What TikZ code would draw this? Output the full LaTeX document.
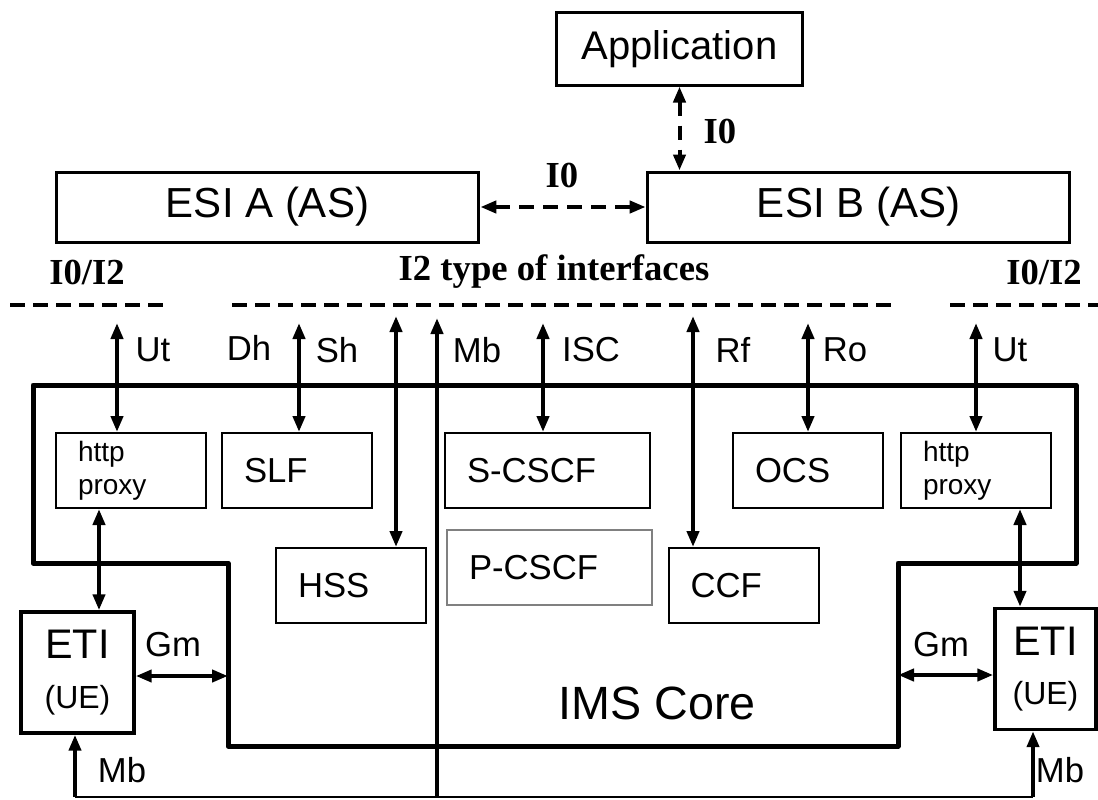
\documentclass[tikz,border=0pt]{standalone}
\usepackage{fontspec}
\setmainfont{Liberation Sans}
\newfontfamily\labelfont{Liberation Serif}
\usetikzlibrary{positioning,arrows.meta}

\tikzset{
    box/.style={rectangle, draw, line width=1.5pt, minimum height=56.25pt, inner xsep=16.5pt, inner ysep=2pt, text width=79.5pt, align=left, font=\fontsize{26}{28}\selectfont},
    widebox/.style={box, text width=120.75pt},
    proxybox/.style={box, font=\fontsize{21}{25}\selectfont},
    bigbox/.style={rectangle, draw, line width=2.25pt, minimum width=317pt, minimum height=52.5pt, font=\fontsize{31.5}{34}\selectfont},
    uebox/.style={rectangle, draw, line width=2.6pt, minimum height=90.75pt, align=center, inner sep=0pt, font=\fontsize{31}{37}\selectfont},
    iface/.style={font=\fontsize{26}{28}\selectfont},
    ilabel/.style={font=\labelfont\bfseries\fontsize{27.5}{30}\selectfont},
    link/.style={line width=3pt, {Triangle[length=12pt,width=9pt]}-{Triangle[length=12pt,width=9pt]}},
    uplink/.style={line width=3pt, -{Triangle[length=12pt,width=9pt]}},
    dashlink/.style={link, dash pattern=on 11pt off 7pt},
    divider/.style={line width=3.2pt, dash pattern=on 11.25pt off 6pt},
    core/.style={line width=3.75pt, line join=round}
}

\begin{document}
\begin{tikzpicture}[x=0.75pt, y=-0.75pt]
    \useasboundingbox (0,0) rectangle (1098,799);

    \node(app) [bigbox, minimum width=185pt, minimum height=54pt, font=\fontsize{30}{32}\selectfont] at (679.5,49) {Application};
    \node(esiA) [bigbox] at (267.5,207) {ESI A (AS)};
    \node(esiB) [bigbox] at (858.5,207) {ESI B (AS)};
    \draw[dashlink] (esiA.east) -- (esiB.west);
    \draw[dashlink] (app.south) -- (app.south |- esiB.north);
    \node(i0h) [ilabel] at (562,175) {I0};
    \node(i0v) [ilabel] at (720,131) {I0};

    \node(i0i2L) [ilabel] at (87,272) {I0/I2};
    \node(i2type) [ilabel] at (554,272) {I2 type of interfaces};
    \node(i0i2R) [ilabel] at (1044,272) {I0/I2};
    \draw[divider] (10,305) -- (166,305);
    \draw[divider] (232,305) -- (892,305);
    \draw[divider] (950,305) -- (1098,305);

    \draw[core] (33,385) -- (1076,385) -- (1076,563) -- (898,563) -- (898,746) -- (228,746) -- (228,563) -- (33,563) -- cycle;
    \coordinate(gmL) at (228,676);
    \coordinate(gmR) at (898,675);
    \node(imscore) [font=\fontsize{35}{38}\selectfont] at (657,703) {IMS Core};

    \node(proxyL) [proxybox] at (131,470.5) {http\\proxy};
    \node(slf) [box] at (297,470.5) {SLF};
    \node(scscf) [widebox] at (547.5,470.5) {S-CSCF};
    \node(ocs) [box] at (808,470.5) {OCS};
    \node(proxyR) [proxybox] at (976,470.5) {http\\proxy};
    \node(hss) [box] at (351,585.5) {HSS};
    \node(pcscf) [widebox, draw=gray] at (549.5,567.5) {P-CSCF};
    \node(ccf) [box] at (743.5,585.5) {CCF};

    \node(etiL) [uebox, minimum width=84.75pt] at (77.5,672.5) {ETI\\{\fontsize{24}{28}\selectfont (UE)}};
    \node(etiR) [uebox, minimum width=75.75pt] at (1045.5,669) {ETI\\{\fontsize{24}{28}\selectfont (UE)}};

    \coordinate(utL) at (117,323);
    \coordinate(sh) at (299,323);
    \coordinate(dh) at (396,316);
    \coordinate(isc) at (543,323);
    \coordinate(rf) at (693,316);
    \coordinate(ro) at (808,323);
    \coordinate(utR) at (976,323);
    \draw[link] (utL) -- (utL |- proxyL.north);
    \draw[link] (sh) -- (sh |- slf.north);
    \draw[link] (dh) -- (dh |- hss.north);
    \draw[link] (isc) -- (isc |- scscf.north);
    \draw[link] (rf) -- (rf |- ccf.north);
    \draw[link] (ro) -- (ro |- ocs.north);
    \draw[link] (utR) -- (utR |- proxyR.north);

    \node(utLl) [iface] at (153,350) {Ut};
    \node(dhl) [iface] at (249,348) {Dh};
    \node(shl) [iface] at (337,350) {Sh};
    \node(mbl) [iface] at (477,350) {Mb};
    \node(iscl) [iface] at (591,350) {ISC};
    \node(rfl) [iface] at (733,350) {Rf};
    \node(rol) [iface] at (845,350) {Ro};
    \node(utRl) [iface] at (1010,350) {Ut};

    \draw[link] ([xshift=-24pt]proxyL.south) -- ([xshift=-24pt]proxyL.south |- etiL.north);
    \draw[link] ([xshift=33pt]proxyR.south) -- ([xshift=33pt]proxyR.south |- etiR.north);
    \draw[link] (etiL.east |- gmL) -- (gmL);
    \draw[link] (gmR) -- (gmR -| etiR.west);
    \node(gmLl) [iface] at (173,645) {Gm};
    \node(gmRl) [iface] at (941,645) {Gm};

    \coordinate(mbTop) at (437,318);
    \coordinate(mbBot) at (437,797);
    \coordinate(mbL) at (75,797);
    \coordinate(mbR) at (1033,797);
    \draw[line width=1.5pt] (mbL) -- (mbR);
    \draw[uplink] (mbBot) -- (mbTop);
    \draw[uplink] (mbL) -- (mbL |- etiL.south);
    \draw[uplink] (mbR) -- (mbR |- etiR.south);
    \node(mbLl) [iface] at (122,770) {Mb};
    \node(mbRl) [iface] at (1060,770) {Mb};
\end{tikzpicture}
\end{document}
